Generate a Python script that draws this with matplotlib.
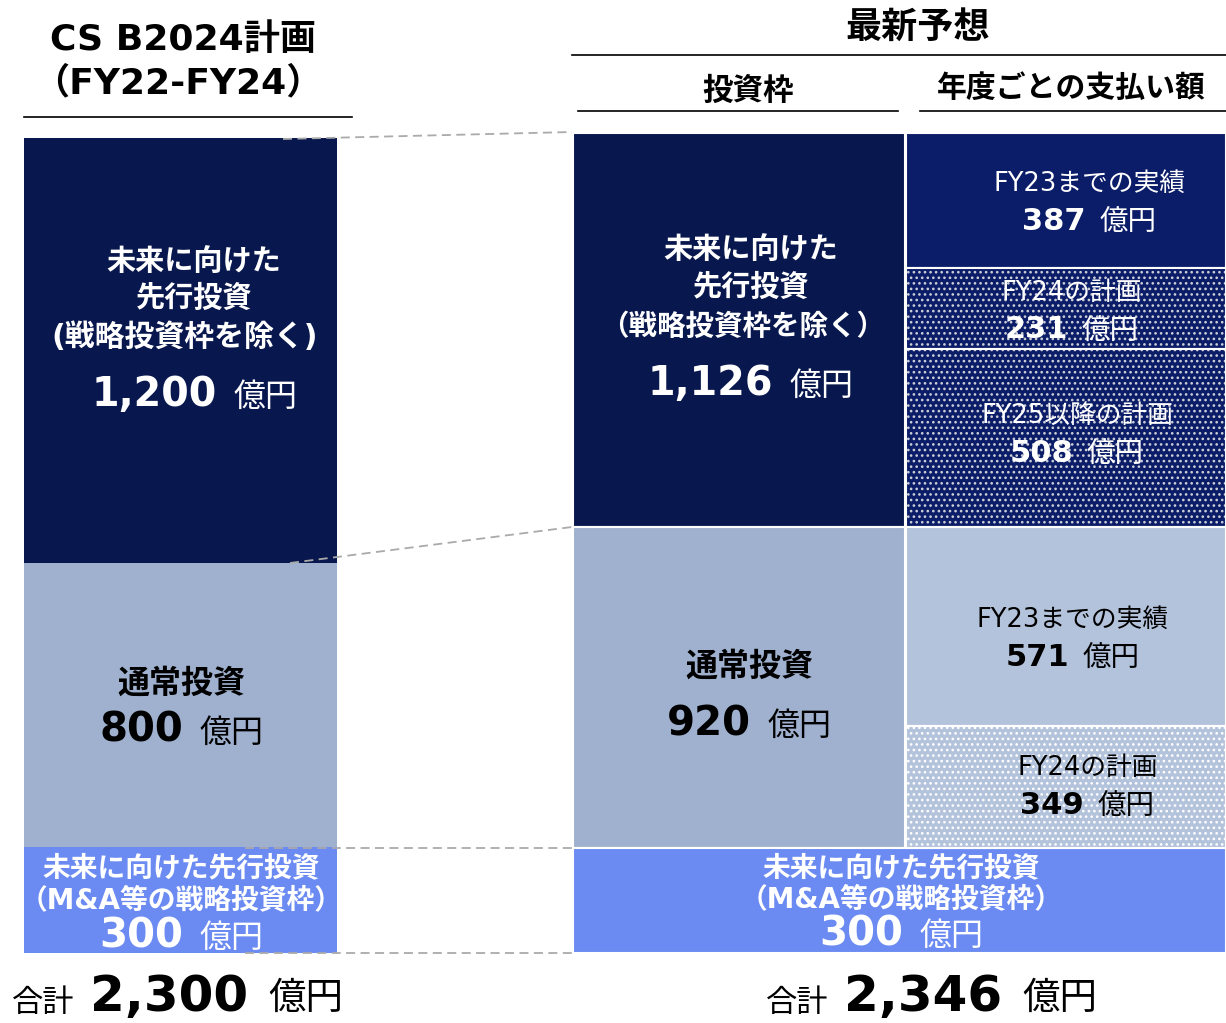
import matplotlib.pyplot as plt
from matplotlib.patches import Rectangle

# Latin glyphs from DejaVu, Japanese falls through to Noto
plt.rcParams['font.family'] = ['DejaVu Sans', 'Noto Sans CJK JP']
plt.rcParams['hatch.linewidth'] = 1.1

W, H = 1226, 1023

# CS B2024 plan (FY22-FY24), 億円
plan_values = [1200, 800, 300]
# latest forecast: investment frame
forecast_values = [1126, 920, 300]
# latest forecast: yearly payments
pay_labels = ['FY23までの実績', 'FY24の計画', 'FY25以降の計画', 'FY23までの実績', 'FY24の計画']
pay_values = [387, 231, 508, 571, 349]

NAVY = '#08174d'
NAVY2 = '#0b1d68'
GRAYBLUE = '#9fb1cf'
LIGHTBLUE = '#b4c3dc'
MA_BLUE = '#6b8bf2'


def frac(x0, y0, x1, y1):
    return [x0 / W, 1 - y1 / H, (x1 - x0) / W, (y1 - y0) / H]


fig = plt.figure(figsize=(W / 100, H / 100), dpi=100)

# left stack
axl = fig.add_axes(frac(24, 138, 337, 953))
axl.set_xlim(0, 1)
axl.set_ylim(sum(plan_values), 0)
axl.axis('off')
bottom = 0
for v, c in zip(plan_values, [NAVY, GRAYBLUE, MA_BLUE]):
    axl.bar(0.5, v, width=1, bottom=bottom, color=c, linewidth=0)
    bottom += v

# right stack: investment frame column + payment column
axr = fig.add_axes(frac(573, 133, 1226, 953))
axr.set_xlim(0, 653)
axr.set_ylim(sum(forecast_values), 0)
axr.axis('off')
axr.bar(0, forecast_values[0], width=332, bottom=0, align='edge',
        color=NAVY, edgecolor='white', linewidth=1.5)
axr.bar(0, forecast_values[1], width=332, bottom=forecast_values[0], align='edge',
        color=GRAYBLUE, edgecolor='white', linewidth=1.5)
axr.bar(0, forecast_values[2], width=653, bottom=forecast_values[0] + forecast_values[1],
        align='edge', color=MA_BLUE, edgecolor='white', linewidth=1.5)

pay_faces = [NAVY2, NAVY2, NAVY2, LIGHTBLUE, LIGHTBLUE]
pay_dots = [None, '#cdd0d8', '#cdd0d8', None, 'white']
bottom = 0
for v, fc, dc in zip(pay_values, pay_faces, pay_dots):
    axr.bar(333, v, width=320, bottom=bottom, align='edge',
            color=fc, edgecolor='white', linewidth=1.5)
    if dc:
        axr.add_patch(Rectangle((334, bottom + 2), 318, v - 4, facecolor='none',
                                edgecolor=dc, linewidth=0, hatch='...'))
    bottom += v

# overlay for headings, connectors and labels (pixel coordinates)
ax = fig.add_axes([0, 0, 1, 1])
ax.set_xlim(0, W)
ax.set_ylim(H, 0)
ax.axis('off')
ax.patch.set_alpha(0)


def put(x, y, s, size, color='black', bold=False, ha='center'):
    ax.text(x, y, s, fontsize=size, color=color, ha=ha, va='center',
            fontweight='bold' if bold else 'normal')


def amount(x, y, v, nsize, usize, color, gap=15):
    put(x, y, f'{v:,}', nsize, color, bold=True, ha='right')
    put(x + gap, y + 2, '億円', usize, color, ha='left')


# headings
put(183, 40, 'CS B2024計画', 26, bold=True)
put(178, 83, '（FY22-FY24）', 26, bold=True)
ax.plot([24, 352], [117, 117], color='black', lw=1.2)
put(918, 29, '最新予想', 26, bold=True)
ax.plot([572, 1226], [55, 55], color='black', lw=1.2)
put(748, 91, '投資枠', 22, bold=True)
ax.plot([578, 898], [111, 111], color='black', lw=1.2)
put(1071, 88, '年度ごとの支払い額', 21.5, bold=True)
ax.plot([920, 1226], [111, 111], color='black', lw=1.2)

# dashed connectors
dash = dict(color='#aaaaaa', lw=1.3, ls=(0, (5, 3)))
ax.plot([283, 572], [139, 132], **dash)
ax.plot([290, 572], [563, 527], **dash)
ax.plot([245, 572], [848, 848], **dash)
ax.plot([245, 572], [953, 953], **dash)

# left stack labels
put(194, 262, '未来に向けた', 21, 'white', True)
put(194, 299, '先行投資', 21, 'white', True)
put(185, 337, '(戦略投資枠を除く)', 21.5, 'white', True)
amount(217, 395, plan_values[0], 28.5, 23, 'white', 17)
put(181, 684, '通常投資', 23, 'black', True)
amount(183, 731, plan_values[1], 29, 23, 'black', 17)
put(181, 868, '未来に向けた先行投資', 20, 'white', True)
put(181, 900, '（M&A等の戦略投資枠）', 20, 'white', True)
amount(183, 936, plan_values[2], 29, 23, 'white', 17)

# investment frame labels
put(751, 250, '未来に向けた', 21, 'white', True)
put(751, 288, '先行投資', 21, 'white', True)
put(743, 327, '（戦略投資枠を除く）', 20.5, 'white', True)
amount(773, 384, forecast_values[0], 28.5, 23, 'white', 17)
put(749, 667, '通常投資', 23, 'black', True)
amount(751, 724, forecast_values[1], 29, 23, 'black', 17)
put(901, 868, '未来に向けた先行投資', 20, 'white', True)
put(901, 899, '（M&A等の戦略投資枠）', 20, 'white', True)
amount(903, 934, forecast_values[2], 29, 23, 'white', 17)

# payment labels
pay_pos = [(1090, 184, 1086), (1072, 293, 1068), (1078, 416, 1073),
           (1073, 620, 1069), (1088, 768, 1084)]
for (x, y, xn), lab, v, fc in zip(pay_pos, pay_labels, pay_values, pay_faces):
    col = 'white' if fc == NAVY2 else 'black'
    put(x, y, lab, 18.5, col)
    amount(xn, y + 37, v, 22, 20.5, col, 14)

# totals
put(12, 1003, '合計', 22.5, ha='left')
amount(248, 997, sum(plan_values), 36, 27, 'black', 20)
put(766, 1003, '合計', 22.5, ha='left')
amount(1002, 997, sum(forecast_values), 36, 27, 'black', 20)

fig.savefig('out.png', dpi=100)
